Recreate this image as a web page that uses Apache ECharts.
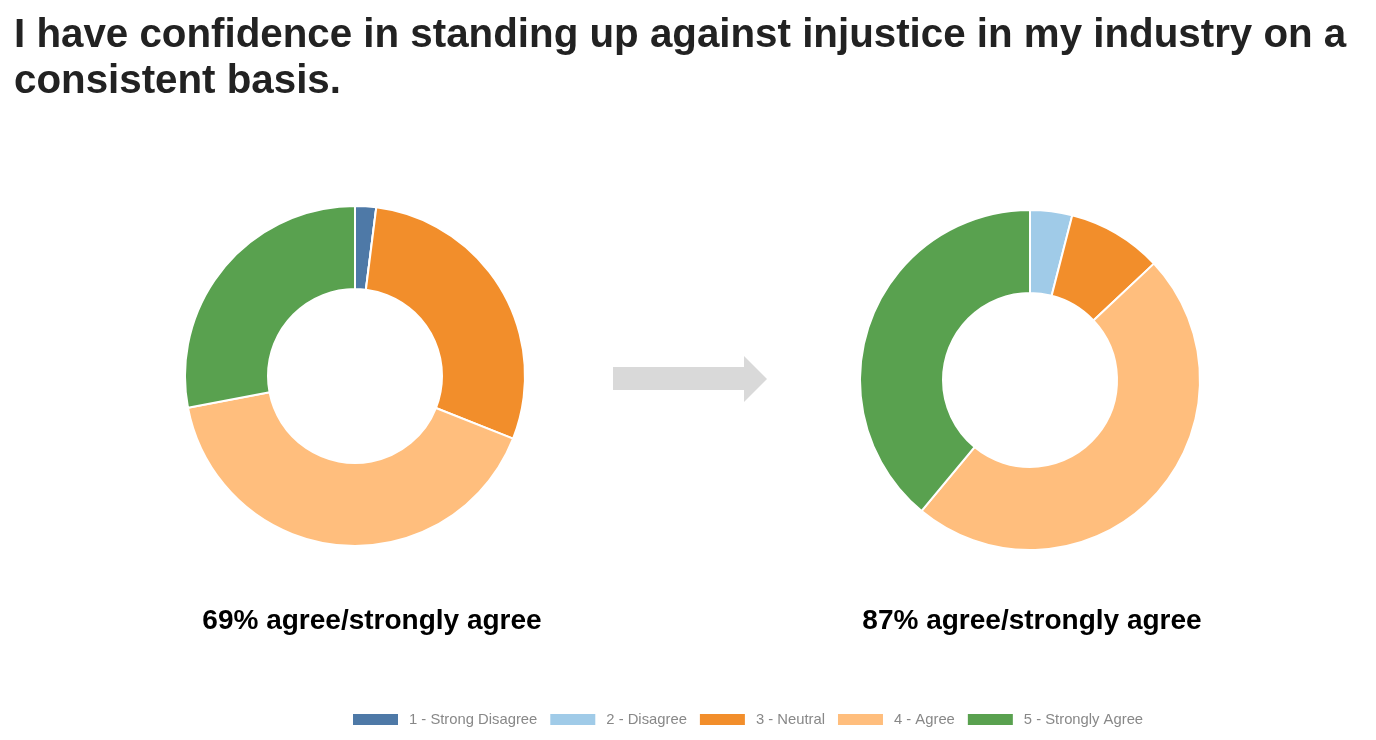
<!DOCTYPE html>
<html><head><meta charset="utf-8">
<script src="https://cdn.jsdelivr.net/npm/echarts@6/dist/echarts.min.js"></script>
<style>html,body{margin:0;padding:0;background:#fff}#c{width:1376px;height:740px}</style>
</head><body><div id="c"></div>
<script>
const categories = ['1 - Strong Disagree','2 - Disagree','3 - Neutral','4 - Agree','5 - Strongly Agree'];
const beforeValues = [2, 0, 29, 41, 28];
const afterValues = [0, 4, 9, 48, 39];
const captions = ['69% agree/strongly agree', '87% agree/strongly agree'];
const titleText = 'I have confidence in standing up against injustice in my industry on a\nconsistent basis.';
const colors = ['#4e79a7','#a0cbe8','#f28e2b','#ffbe7d','#59a14f'];

const chart = echarts.init(document.getElementById('c'));
function pie(center, values){
  return {
    type:'pie', center:center, radius:[87,170], startAngle:90, clockwise:true,
    label:{show:false}, labelLine:{show:false}, silent:true,
    itemStyle:{borderColor:'#fff', borderWidth:2},
    data: categories.map((n,i)=>({name:n, value:values[i]}))
  };
}
chart.setOption({
  color: colors,
  animation:false,
  title:[
    {text:titleText, left:9, top:8, textStyle:{fontFamily:'Liberation Sans', fontWeight:'bold', fontSize:40.3, lineHeight:46, color:'#222'}},
    {text:captions[0], left:367, textAlign:'center', top:602, textStyle:{fontFamily:'Liberation Sans', fontWeight:'bold', fontSize:28, color:'#000'}},
    {text:captions[1], left:1027, textAlign:'center', top:602, textStyle:{fontFamily:'Liberation Sans', fontWeight:'bold', fontSize:28, color:'#000'}}
  ],
  legend:{
    data:categories, left:346, top:707, itemWidth:47, itemHeight:13, itemGap:11, icon:'rect',
    textStyle:{fontFamily:'Liberation Sans', fontSize:14.8, color:'#888', padding:[0,0,0,5]}
  },
  graphic:[{
    type:'polygon', silent:true,
    shape:{points:[[613,367],[744,367],[744,356],[767,379],[744,402],[744,390],[613,390]]},
    style:{fill:'#d9d9d9'}
  }],
  series:[pie([355,376], beforeValues), pie([1030,380], afterValues)]
});
</script></body></html>
